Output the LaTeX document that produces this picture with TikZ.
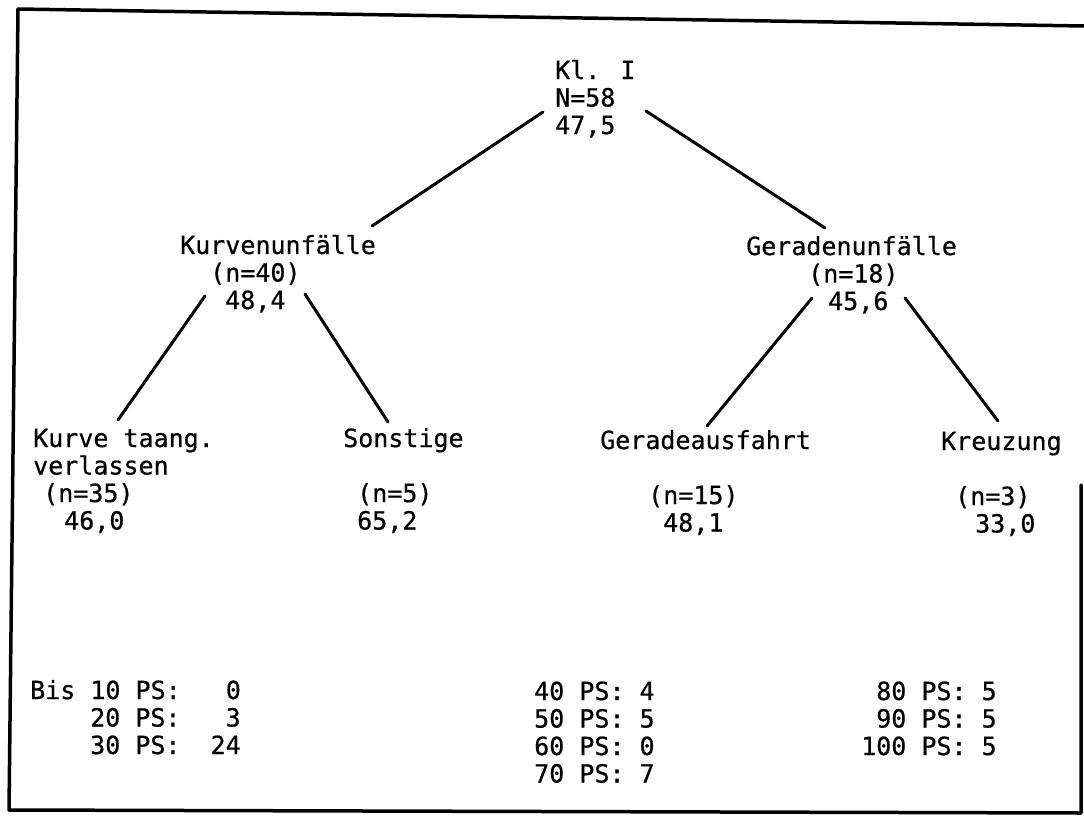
\documentclass[tikz,border=0pt]{standalone}
\usepackage{fontspec}
\newfontfamily\typewfont[FakeBold=0.6]{DejaVu Sans Mono}
\newcommand{\blocktext}[1]{\begin{tabular}[t]{@{}l@{}}#1\end{tabular}}
\tikzset{
  blk/.style={anchor=base west, inner sep=0pt, font=\typewfont\fontsize{25}{27.5}\selectfont},
  branch/.style={line width=3pt, line cap=round, draw=black},
  frame/.style={line width=3.5pt, line cap=round, line join=round},
}
\begin{document}
\begin{tikzpicture}[x=1pt,y=-1pt]
\useasboundingbox (0,0) rectangle (1084,819);

% page frame
\draw[frame] (1084,26) -- (18,9) -- (9,810) -- (1081,813) -- (1081,485);

% tree levels
\node[blk] (root) at (555,79) {\blocktext{Kl. I\\N=58\\47,5}};

\node[blk] (kurv) at (180,254) {\blocktext{Kurvenunfälle\\\hspace*{30pt}(n=40)\\\hspace*{45pt}48,4}};
\node[blk] (gerad) at (746,255) {\blocktext{Geradenunfälle\\\hspace*{62pt}(n=18)\\\hspace*{82pt}45,6}};

\node[blk] (tang) at (33,447) {\blocktext{Kurve taang.\\verlassen\\\hspace*{10pt}(n=35)\\\hspace*{31pt}46,0}};
\node[blk] (sonst) at (343,447) {\blocktext{Sonstige\\ \\\hspace*{14pt}(n=5)\\\hspace*{14pt}65,2}};
\node[blk] (ausf) at (600,449) {\blocktext{Geradeausfahrt\\ \\\hspace*{48pt}(n=15)\\\hspace*{63pt}48,1}};
\node[blk] (kreuz) at (941,450) {\blocktext{Kreuzung\\ \\\hspace*{14pt}(n=3)\\\hspace*{34pt}33,0}};

% power classes
\node[blk] (ps1) at (30,699) {\blocktext{Bis 10 PS:\hphantom{000}0\\\hspace*{60pt}20 PS:\hphantom{000}3\\\hspace*{60pt}30 PS:\hphantom{00}24}};
\node[blk] (ps2) at (534,700) {\blocktext{40 PS: 4\\50 PS: 5\\60 PS: 0\\70 PS: 7}};
\node[blk] (ps3) at (861,700) {\blocktext{\hphantom{0}80 PS: 5\\\hphantom{0}90 PS: 5\\100 PS: 5}};

% branch end points
\coordinate (root-l) at (543,112);
\coordinate (root-r) at (646,111);
\coordinate (kurv-t) at (372,226);
\coordinate (gerad-t) at (825,228);
\coordinate (kurv-l) at (205,296);
\coordinate (kurv-r) at (305,294);
\coordinate (gerad-l) at (812,298);
\coordinate (gerad-r) at (905,298);
\coordinate (tang-t) at (118,420);
\coordinate (sonst-t) at (388,422);
\coordinate (ausf-t) at (707,426);
\coordinate (kreuz-t) at (998,421);

\draw[branch] (root-l) -- (kurv-t);
\draw[branch] (root-r) -- (gerad-t);
\draw[branch] (kurv-l) -- (tang-t);
\draw[branch] (kurv-r) -- (sonst-t);
\draw[branch] (gerad-l) -- (ausf-t);
\draw[branch] (gerad-r) -- (kreuz-t);
\end{tikzpicture}
\end{document}
